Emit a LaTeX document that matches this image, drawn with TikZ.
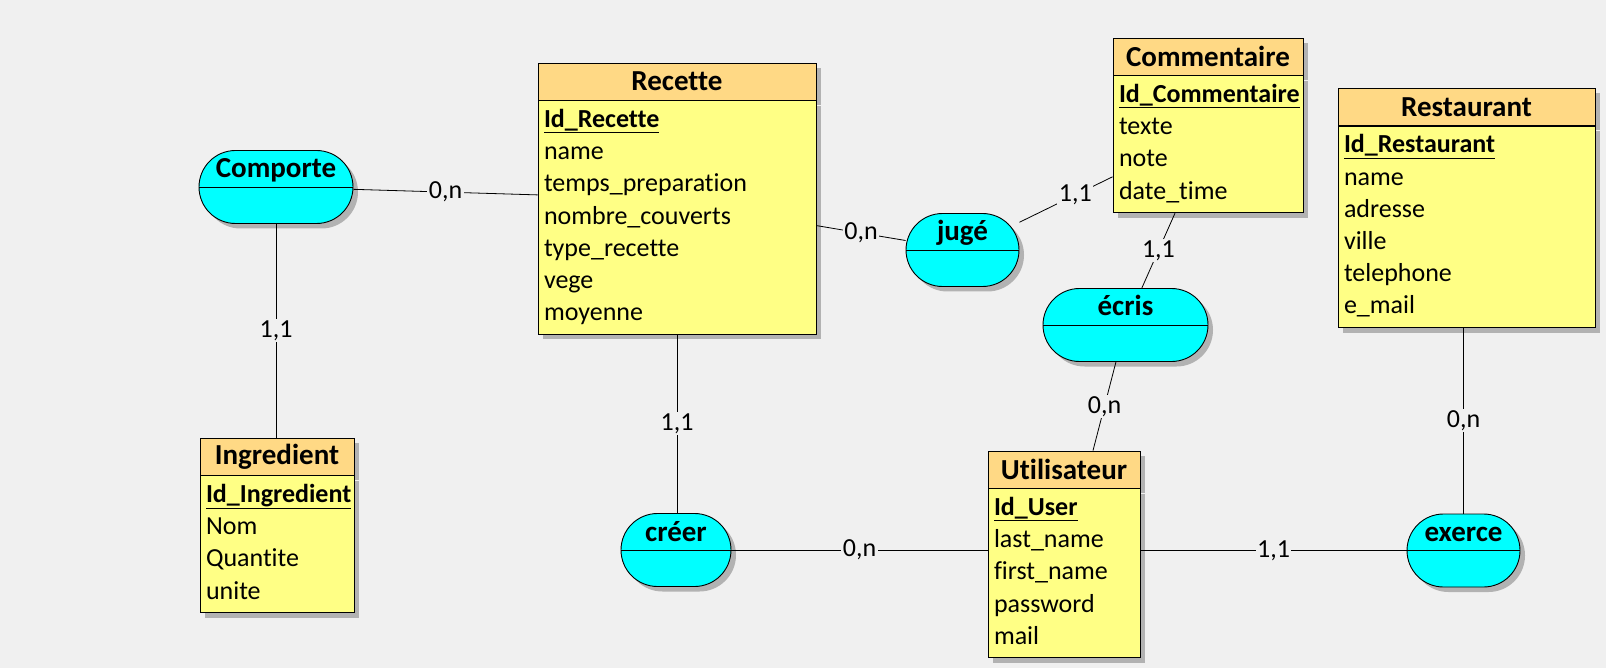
\documentclass[tikz,border=0pt]{standalone}
\usepackage{fontspec}
\setmainfont{Carlito}[RawFeature={-liga}]
\usetikzlibrary{positioning,shadows,calc}
\definecolor{bg}{HTML}{F0F0F0}
\definecolor{enthead}{HTML}{FFD985}
\definecolor{entbody}{HTML}{FFFF85}
\definecolor{relfill}{HTML}{00FFFF}

\begin{document}
\begin{tikzpicture}[x=1pt, y=-1pt,
    eshadow/.style={drop shadow={shadow xshift=5pt, shadow yshift=-5pt, fill=black!30, opacity=1}},
    ehead/.style={draw, line width=0.9pt, fill=enthead, eshadow, minimum height=37pt, inner sep=0pt,
        font=\fontsize{29}{34}\selectfont\bfseries},
    ebody/.style={draw, line width=0.9pt, fill=entbody, eshadow, anchor=north, align=left,
        inner xsep=6pt, inner ysep=4pt, font=\fontsize{26}{32.2}\selectfont,
        execute at begin node=\strut, execute at end node=\strut},
    relation/.style={draw, line width=0.9pt, fill=relfill, eshadow, rounded corners=36.5pt,
        minimum height=73pt, inner sep=0pt, text height=20pt, text depth=38pt,
        font=\fontsize{29}{34}\selectfont\bfseries,
        path picture={\draw[line width=0.9pt] (path picture bounding box.west) -- (path picture bounding box.east);}},
    card/.style={fill=bg, inner sep=1.5pt, font=\fontsize{26}{30}\selectfont},
    conn/.style={line width=0.8pt}
]
    \useasboundingbox[fill=bg] (0,0) rectangle (1606,668);

    % Entities
    \node[ehead, minimum width=278pt] (recette-h) at (677,81.5) {Recette};
    \node[ebody, text width=266pt] (recette-b) at (recette-h.south)
        {\underline{\textbf{Id\_Recette}}\\ name\\ temps\_preparation\\ nombre\_couverts\\ type\_recette\\ vege\\ moyenne};

    \node[ehead, minimum width=190pt] (comm-h) at (1208,56.5) {Commentaire};
    \node[ebody, text width=178pt] (comm-b) at (comm-h.south)
        {\underline{\textbf{Id\_Commentaire}}\\ texte\\ note\\ date\_time};

    \node[ehead, minimum width=257pt] (resto-h) at (1466.5,107) {Restaurant};
    \node[ebody, text width=245pt] (resto-b) at (resto-h.south)
        {\underline{\textbf{Id\_Restaurant}}\\ name\\ adresse\\ ville\\ telephone\\ e\_mail};

    \node[ehead, minimum width=154pt] (ingr-h) at (277,456.5) {Ingredient};
    \node[ebody, text width=142pt] (ingr-b) at (ingr-h.south)
        {\underline{\textbf{Id\_Ingredient}}\\ Nom\\ Quantite\\ unite};

    \node[ehead, minimum width=152pt] (user-h) at (1064,469.5) {Utilisateur};
    \node[ebody, text width=140pt] (user-b) at (user-h.south)
        {\underline{\textbf{Id\_User}}\\ last\_name\\ first\_name\\ password\\ mail};

    % Relations
    \node[relation, minimum width=154pt] (comporte) at (276,187) {Comporte};
    \node[relation, minimum width=113pt] (juge) at (962.5,250) {jugé};
    \node[relation, minimum width=165pt] (ecris) at (1125.5,325) {écris};
    \node[relation, minimum width=110pt] (creer) at (676,550) {créer};
    \node[relation, minimum width=113pt] (exerce) at (1463.5,550.5) {exerce};

    % Links
    \draw[conn] (comporte) -- node[card] {0,n} ([yshift=22.7pt]recette-b.west);
    \draw[conn] (comporte.south) -- node[card] {1,1} (comporte.south |- ingr-h.north);
    \draw[conn] ([yshift=-8pt]recette-b.east) -- node[card] {0,n} (juge);
    \draw[conn] (juge) -- node[card, pos=0.6] {1,1} ([yshift=-32.5pt]comm-b.west);
    \draw[conn] ([xshift=-33pt]comm-b.south) -- node[card] {1,1} (ecris);
    \draw[conn] (ecris) -- node[card] {0,n} ([xshift=29pt]user-h.north);
    \draw[conn] (recette-b.south) -- node[card] {1,1} (recette-b.south |- creer.north);
    \draw[conn] (creer.east) -- node[card] {0,n} (creer.east -| user-b.west);
    \draw[conn] (exerce.west -| user-b.east) -- node[card] {1,1} (exerce.west);
    \draw[conn] (exerce.north |- resto-b.south) -- node[card] {0,n} (exerce.north);
\end{tikzpicture}
\end{document}
